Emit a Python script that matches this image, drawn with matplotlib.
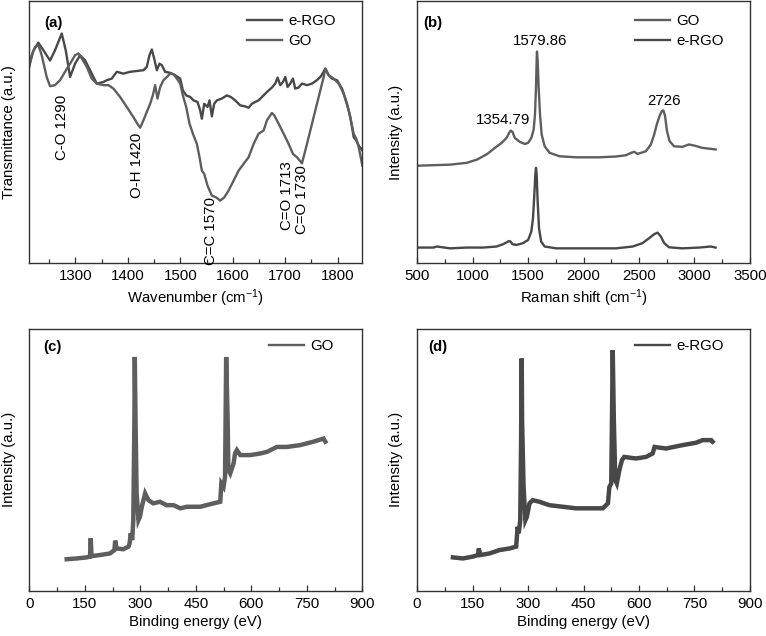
import matplotlib
matplotlib.use("Agg")
import matplotlib.pyplot as plt
from matplotlib.ticker import MultipleLocator

plt.rcParams['font.family'] = ['Liberation Sans', 'DejaVu Sans']
plt.rcParams['mathtext.fontset'] = 'custom'
plt.rcParams['mathtext.rm'] = 'Liberation Sans'
plt.rcParams['mathtext.it'] = 'Liberation Sans:italic'
plt.rcParams['mathtext.bf'] = 'Liberation Sans:bold'

# ---------------- (a) FTIR ----------------
ftir_ergo_wn = [1212, 1219.7, 1229.2, 1238.8, 1251.5, 1261.0, 1273.8, 1281.4, 1289.7, 1299.2,
                1308.8, 1318.3, 1327.9, 1340.6, 1353.3, 1359.7, 1369.2, 1378.8, 1391.5, 1404.2,
                1416.9, 1429.6, 1436.0, 1441.1, 1445.6, 1450.0, 1455.1, 1460.2, 1464.7, 1471.0,
                1480.6, 1490.1, 1499.7, 1504.8, 1511.1, 1518.8, 1525.1, 1532.7, 1537.8, 1541.0,
                1545.5, 1551.8, 1555.6, 1560.1, 1564.5, 1569.6, 1579.2, 1588.7, 1596.3, 1604.6,
                1614.2, 1623.7, 1630.1, 1636.4, 1642.8, 1649.2, 1658.7, 1665.1, 1674.6, 1681.0,
                1685.4, 1690.5, 1695.6, 1700.1, 1704.5, 1709.6, 1714.7, 1719.1, 1725.5, 1731.9,
                1741.4, 1751.0, 1760.5, 1768.2, 1776.4, 1782.8, 1789.2, 1798.7, 1808.3, 1817.8,
                1824.2, 1830.5, 1835.6, 1840.1, 1847.1]
ftir_ergo_t = [75.5, 81.0, 84.1, 81.2, 77.3, 81.2, 87.6, 81.2, 71.0, 76.1,
               79.3, 77.4, 73.6, 68.5, 69.1, 69.8, 70.4, 73.0, 72.3, 73.0,
               73.3, 73.6, 74.9, 79.3, 81.5, 78.1, 73.6, 76.1, 75.5, 73.0,
               72.6, 71.7, 70.4, 65.9, 64.0, 63.4, 62.1, 61.5, 58.3, 55.1,
               60.8, 59.6, 62.1, 56.0, 60.8, 62.1, 62.8, 64.0, 63.4, 62.1,
               60.2, 59.8, 59.3, 60.8, 61.5, 62.1, 64.0, 65.3, 67.0, 68.5,
               70.8, 67.9, 69.1, 71.0, 67.2, 68.5, 70.4, 66.6, 67.0, 68.5,
               67.9, 68.5, 69.8, 71.3, 74.2, 71.7, 70.4, 69.8, 66.6, 60.8,
               55.7, 48.1, 46.8, 44.9, 43.0]

ftir_go_wn = [1212, 1216.5, 1222.9, 1229.2, 1235.6, 1245.1, 1251.5, 1261.0, 1270.6, 1280.1,
              1289.7, 1299.2, 1305.6, 1312.0, 1321.5, 1331.0, 1340.6, 1353.3, 1362.9, 1372.4,
              1385.1, 1397.8, 1410.5, 1420.1, 1423.3, 1429.6, 1436.0, 1442.4, 1447.5, 1451.9,
              1456.4, 1461.5, 1467.8, 1474.2, 1480.6, 1486.9, 1493.3, 1499.7, 1504.8, 1511.1,
              1517.5, 1523.9, 1531.5, 1536.6, 1541.0, 1545.5, 1551.8, 1560.1, 1568.4, 1576.0,
              1583.7, 1591.9, 1601.5, 1611.0, 1620.6, 1630.1, 1639.7, 1649.2, 1658.7, 1665.1,
              1674.6, 1679.1, 1687.4, 1696.9, 1706.5, 1714.7, 1722.4, 1727.5, 1731.9, 1738.3,
              1747.8, 1757.4, 1766.9, 1773.3, 1776.4, 1782.8, 1792.4, 1801.9, 1811.5, 1821.0,
              1830.5, 1835.6, 1840.1, 1847.1]
ftir_go_t = [74.9, 79.3, 82.5, 83.2, 79.3, 71.0, 67.5, 67.9, 69.8, 73.0,
             76.1, 79.3, 80.0, 78.1, 74.9, 70.4, 68.5, 67.9, 67.9, 66.6,
             63.4, 59.6, 55.7, 52.6, 51.7, 54.5, 57.7, 60.8, 64.0, 67.9,
             62.8, 67.2, 69.8, 71.0, 72.3, 72.1, 70.4, 68.5, 64.0, 59.6,
             53.2, 49.4, 45.5, 40.4, 35.3, 34.1, 29.6, 25.8, 25.1, 23.9,
             25.1, 27.7, 31.5, 35.3, 37.9, 40.4, 45.5, 49.4, 50.6, 54.5,
             57.3, 56.4, 53.2, 49.4, 45.5, 41.7, 40.4, 39.2, 38.1, 43.0,
             50.6, 58.3, 65.9, 71.0, 74.2, 71.7, 70.4, 68.5, 64.7, 58.3,
             49.4, 47.4, 44.3, 37.2]

ftir_labels = ["C-O 1290", "O-H 1420", "C=C 1570", "C=O 1713", "C=O 1730"]
ftir_label_wn = [1274, 1417, 1558, 1703, 1732]
ftir_label_t = [51.8, 37.2, 12.4, 25.8, 24.2]

# ---------------- (b) Raman ----------------
raman_go_x = [508, 649, 798, 948, 1038, 1127, 1202, 1262, 1307, 1330, 1345, 1360, 1381, 1426,
              1471, 1501, 1530, 1551, 1563, 1572, 1578, 1581, 1587, 1596, 1608, 1623, 1650,
              1695, 1785, 1934, 2144, 2293, 2383, 2428, 2457, 2487, 2562, 2607, 2637, 2660,
              2685, 2705, 2720, 2735, 2752, 2775, 2816, 2891, 2951, 2996, 3071, 3190]
raman_go_y = [37.2, 37.4, 37.6, 38.3, 39.5, 41.5, 44.0, 45.9, 47.8, 49.7, 50.6, 50.1, 47.8, 46.3,
              45.5, 45.9, 47.8, 51.0, 56.8, 67.0, 77.2, 80.7, 77.2, 67.0, 56.8, 49.1, 44.6,
              42.1, 40.8, 40.4, 40.4, 40.7, 41.2, 42.1, 42.5, 41.7, 42.7, 45.3, 49.1, 52.9,
              56.1, 58.0, 58.3, 56.1, 50.4, 46.6, 44.6, 44.4, 45.3, 44.9, 44.0, 43.4]
raman_ergo_x = [508, 649, 679, 798, 948, 1097, 1217, 1277, 1330, 1342, 1360, 1397, 1456, 1501,
                1530, 1545, 1557, 1566, 1572, 1578, 1587, 1599, 1618, 1650, 1755, 1994, 2293,
                2443, 2532, 2592, 2637, 2667, 2697, 2727, 2771, 2891, 3041, 3146, 3190]
raman_ergo_y = [6.0, 6.0, 6.4, 5.7, 6.0, 6.0, 6.4, 7.3, 8.5, 8.3, 7.3, 7.0, 7.7, 8.9,
                12.1, 17.2, 26.1, 33.8, 36.4, 33.8, 23.6, 13.4, 8.3, 6.4, 5.7, 5.7, 5.7,
                6.4, 7.7, 9.6, 11.1, 11.7, 10.2, 7.7, 6.1, 5.7, 6.0, 6.4, 6.0]
raman_labels = ["1354.79", "1579.86", "2726"]
raman_label_x = [1271, 1605, 2726]
raman_label_y = [54.8, 84.8, 61.9]

# ---------------- (c) XPS GO ----------------
xps_go_e = [101, 128, 155, 164, 166, 168, 191, 218, 230, 232, 236, 254, 268, 271, 274, 278, 281,
            284, 285, 287, 290, 295, 299, 304, 313, 322, 335, 353, 371, 390, 408, 426, 462, 498,
            516, 519, 525, 529, 532, 536, 538, 543, 552, 556, 561, 570, 597, 624, 642, 669, 696,
            732, 768, 795, 800]
xps_go_i = [12.1, 12.4, 12.8, 13.1, 20.1, 13.3, 13.7, 14.3, 15.6, 19.2, 16.2, 15.9, 16.9, 18.1,
            22.0, 19.4, 27.0, 65.1, 89.2, 65.1, 37.2, 27.0, 28.3, 32.1, 37.2, 34.6, 33.4, 34.0,
            32.7, 32.7, 31.5, 32.1, 32.1, 33.4, 34.0, 41.0, 39.7, 43.5, 89.2, 65.1, 46.1, 44.8,
            48.6, 52.4, 53.7, 51.8, 51.8, 52.4, 53.0, 54.9, 54.9, 55.6, 56.9, 58.1, 56.9]

# ---------------- (d) XPS e-RGO ----------------
xps_ergo_e = [97, 124, 151, 165, 167, 171, 196, 223, 250, 268, 272, 275, 279, 281, 283, 284, 288,
              293, 297, 304, 313, 331, 358, 394, 430, 466, 502, 516, 520, 525, 529, 532, 536, 540,
              547, 554, 560, 592, 619, 637, 642, 673, 718, 754, 772, 795, 799]
xps_ergo_i = [12.8, 12.4, 13.1, 13.7, 16.2, 13.7, 14.3, 15.6, 16.2, 16.9, 24.5, 22.0, 27.0, 52.4,
              88.6, 65.1, 39.7, 27.0, 28.3, 33.4, 34.6, 34.0, 32.7, 32.1, 31.5, 31.5, 31.5, 33.4,
              39.7, 41.0, 91.8, 65.1, 42.3, 41.0, 46.1, 49.9, 51.1, 50.5, 51.1, 52.4, 54.9, 54.3,
              55.6, 56.5, 57.5, 57.5, 56.9]

FS = 10.8
C_DARK = '#484848'
C_MID = '#5e5e5e'

fig = plt.figure(figsize=(7.66, 6.36), dpi=100)
W, H = 0.4347, 0.4125
axa = fig.add_axes([0.0383, 0.586, W, H])
axb = fig.add_axes([0.5444, 0.586, W, H])
axc = fig.add_axes([0.0383, 0.0708, W, H])
axd = fig.add_axes([0.5444, 0.0708, W, H])


def style(ax, major, minor, xlabel, ylabel):
    for s in ax.spines.values():
        s.set_color('#333333')
        s.set_linewidth(1.0)
    ax.xaxis.set_major_locator(MultipleLocator(major))
    ax.xaxis.set_minor_locator(MultipleLocator(minor))
    ax.tick_params(axis='x', which='both', direction='in', labelsize=FS, colors='#333333',
                   labelcolor='black', pad=4)
    ax.tick_params(axis='x', which='major', length=4, width=0.9)
    ax.tick_params(axis='x', which='minor', length=3, width=0.9)
    ax.set_yticks([])
    ax.set_xlabel(xlabel, fontsize=FS, labelpad=3)
    ax.set_ylabel(ylabel, fontsize=FS)
    ax.yaxis.set_label_coords(-0.041, 0.5)


# (a)
axa.plot(ftir_ergo_wn, ftir_ergo_t, color=C_DARK, lw=1.7, label='e-RGO')
axa.plot(ftir_go_wn, ftir_go_t, color=C_MID, lw=1.7, label='GO')
axa.set_xlim(1212, 1847)
axa.set_ylim(0, 100)
style(axa, 100, 50, r'Wavenumber (cm$^{-1}$)', 'Transmittance (a.u.)')
for t, xv, yv in zip(ftir_labels, ftir_label_wn, ftir_label_t):
    axa.text(xv, yv, t, rotation=90, ha='center', va='center', fontsize=FS)
axa.text(0.044, 0.916, '(a)', transform=axa.transAxes, fontsize=FS, fontweight='bold',
         ha='left', va='center')
axa.legend(loc='upper left', bbox_to_anchor=(0.654, 0.95), frameon=False, fontsize=FS,
           handlelength=2.3, handletextpad=0.45, labelspacing=0.4, borderpad=0,
           borderaxespad=0)

# (b)
axb.plot(raman_go_x, raman_go_y, color=C_MID, lw=1.7, label='GO')
axb.plot(raman_ergo_x, raman_ergo_y, color=C_DARK, lw=1.7, label='e-RGO')
axb.set_xlim(500, 3500)
axb.set_ylim(0, 100)
style(axb, 500, 250, r'Raman shift (cm$^{-1}$)', 'Intensity (a.u.)')
for t, xv, yv in zip(raman_labels, raman_label_x, raman_label_y):
    axb.text(xv, yv, t, ha='center', va='center', fontsize=FS)
axb.text(0.02, 0.916, '(b)', transform=axb.transAxes, fontsize=FS, fontweight='bold',
         ha='left', va='center')
axb.legend(loc='upper left', bbox_to_anchor=(0.655, 0.95), frameon=False, fontsize=FS,
           handlelength=2.3, handletextpad=0.45, labelspacing=0.4, borderpad=0,
           borderaxespad=0)

# (c)
axc.plot(xps_go_e, xps_go_i, color=C_MID, lw=3.2, label='GO', solid_joinstyle='miter')
axc.set_xlim(0, 900)
axc.set_ylim(0, 100)
style(axc, 150, 75, 'Binding energy (eV)', 'Intensity (a.u.)')
axc.text(0.042, 0.93, '(c)', transform=axc.transAxes, fontsize=FS, fontweight='bold',
         ha='left', va='center')
leg = axc.legend(loc='upper left', bbox_to_anchor=(0.72, 0.96), frameon=False, fontsize=FS,
                 handlelength=2.3, handletextpad=0.45, borderpad=0, borderaxespad=0)
for l in leg.get_lines():
    l.set_linewidth(1.7)

# (d)
axd.plot(xps_ergo_e, xps_ergo_i, color=C_DARK, lw=3.2, label='e-RGO', solid_joinstyle='miter')
axd.set_xlim(0, 900)
axd.set_ylim(0, 100)
style(axd, 150, 75, 'Binding energy (eV)', 'Intensity (a.u.)')
axd.text(0.033, 0.93, '(d)', transform=axd.transAxes, fontsize=FS, fontweight='bold',
         ha='left', va='center')
leg = axd.legend(loc='upper left', bbox_to_anchor=(0.655, 0.96), frameon=False, fontsize=FS,
                 handlelength=2.3, handletextpad=0.45, borderpad=0, borderaxespad=0)
for l in leg.get_lines():
    l.set_linewidth(1.7)

fig.savefig('out.png', dpi=100)
